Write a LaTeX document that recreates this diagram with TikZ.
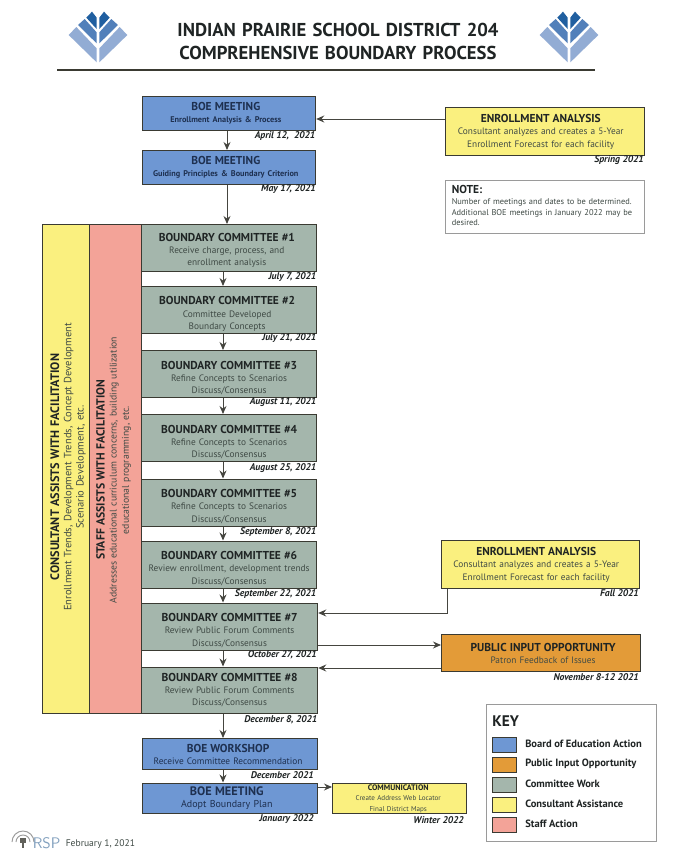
\documentclass[tikz,border=0pt]{standalone}
\usepackage{fontspec}
\setmainfont{PT Sans}
\usetikzlibrary{arrows.meta,calc}
\definecolor{boeblue}{HTML}{6E97D3}
\definecolor{cgreen}{HTML}{A4B6AC}
\definecolor{cyellow}{HTML}{FAF07F}
\definecolor{spink}{HTML}{F3A398}
\definecolor{porange}{HTML}{E39B38}
\definecolor{edge}{HTML}{3A3A32}
\definecolor{linegray}{HTML}{45453F}
\definecolor{bodytxt}{HTML}{3F4A45}
\definecolor{titletxt}{HTML}{1F2424}
\definecolor{bluetxt}{HTML}{1E3050}
\definecolor{keyedge}{HTML}{9A9A9A}
\newcommand{\shl}[1]{\hspace*{-#1pt}}
\newcommand{\dwn}[1]{\rule{0pt}{#1pt}}
\newcommand{\bt}[1]{{\fontsize{8.6}{9.6}\selectfont\bfseries\color{titletxt}#1}}
\newcommand{\bs}[1]{{\color{bodytxt}#1}}
\newcommand{\bbt}[1]{{\fontsize{8.6}{9.6}\selectfont\bfseries\color{bluetxt}#1}}
\newcommand{\bbs}[1]{{\fontsize{6.2}{8}\selectfont\bfseries\color{bluetxt}#1}}
\newcommand{\bbr}[1]{{\color{bluetxt}#1}}
\newcommand{\vtc}[1]{{\fontsize{9.2}{10}\selectfont\bfseries\color{titletxt}#1}}
\newcommand{\vts}[1]{{\fontsize{8.8}{10}\selectfont\bfseries\color{titletxt}#1}}
\tikzset{
  box/.style={draw=edge,line width=0.9pt,anchor=north west,inner sep=0pt,align=center,text width=#1,font=\fontsize{7}{9.2}\selectfont},
  boxwh/.style n args={2}{box=#1*0.75pt,minimum width=#1*0.75pt,minimum height=#2*0.75pt},
  boe/.style={fill=boeblue},
  comm/.style={fill=cgreen},
  cons/.style={fill=cyellow},
  staff/.style={fill=spink},
  pub/.style={fill=porange},
  datelabel/.style={anchor=east,inner sep=0pt,font=\fontsize{7.3}{9}\selectfont\bfseries\itshape,text=titletxt},
  conn/.style={draw=linegray,line width=0.75pt,-{Stealth[length=6pt,width=5.2pt]}},
  notebox/.style={draw=keyedge,line width=1pt,anchor=north west,inner sep=0pt,fill=white},
  swatch/.style={draw=edge,line width=0.8pt,minimum width=18pt,minimum height=11pt,inner sep=0pt,anchor=north west},
  keytxt/.style={anchor=west,inner sep=0pt,font=\fontsize{7.9}{10}\selectfont\bfseries,text=titletxt},
  vert/.style={rotate=90,align=center,inner sep=0pt,anchor=center,text width=300pt},
}
\newcommand{\logoleaves}[1]{%
  \begin{scope}[shift={(#1,5)},x=0.25pt,y=-0.25pt]
    \foreach \s in {1,-1}{
      \begin{scope}[xscale=\s]
      \fill[color={rgb,255:red,32;green,95;blue,160}] (4,38)--(18,20)--(35,38)--(4,72)--cycle;
      \fill[color={rgb,255:red,82;green,128;blue,186}] (4,82)--(40,42)--(60,60)--(4,115)--cycle;
      \fill[color={rgb,255:red,146;green,172;blue,212}] (4,130)--(65,66)--(88,90)--(4,172)--cycle;
      \end{scope}
    }
  \end{scope}}
\begin{document}
\begin{tikzpicture}[x=0.75pt,y=-0.75pt]
\useasboundingbox (0,0) rectangle (672,850);
\fill[white] (0,0) rectangle (672,850);

\logoleaves{98}
\logoleaves{569}
\node[inner sep=0pt,align=center,text width=400pt,font=\fontsize{14}{17.2}\selectfont\bfseries,text=titletxt] (title) at (338,41) {INDIAN PRAIRIE SCHOOL DISTRICT 204\\COMPREHENSIVE BOUNDARY PROCESS};
\coordinate (ruleL) at (57,70);
\coordinate (ruleR) at (595,70);
\draw[line width=1pt,color=edge] (ruleL)--(ruleR);

% BOE
\node[boxwh={173}{34},boe] (boe1) at (142,96) {\shl{5}\bbt{BOE MEETING}\\\shl{5}\bbs{Enrollment Analysis \& Process}};
\node[boxwh={173}{34},boe] (boe2) at (142,150) {\shl{5}\bbt{BOE MEETING}\\\shl{5}\bbs{Guiding Principles \& Boundary Criterion}};
\node[datelabel] (d1) at (315.5,135.5) {April 12,\ \ 2021};
\node[datelabel] (d2) at (316,189) {May 17, 2021};

% committees
\node[boxwh={175}{47},comm] (bc1) at (141,224) {\shl{3.5}\dwn{9.2}\bt{BOUNDARY COMMITTEE \#1}\\\shl{3.5}\bs{Receive charge, process, and}\\\shl{3.5}\bs{enrollment analysis}};
\node[boxwh={175}{47},comm] (bc2) at (141,286) {\shl{3}\dwn{12}\bt{BOUNDARY COMMITTEE \#2}\\\shl{3}\bs{Committee Developed}\\\shl{3}\bs{Boundary Concepts}};
\node[boxwh={175}{47},comm] (bc3) at (141,350) {\dwn{12}\bt{BOUNDARY COMMITTEE \#3}\\\bs{Refine Concepts to Scenarios}\\\bs{Discuss/Consensus}};
\node[boxwh={175}{47},comm] (bc4) at (141,414) {\dwn{12}\bt{BOUNDARY COMMITTEE \#4}\\\bs{Refine Concepts to Scenarios}\\\bs{Discuss/Consensus}};
\node[boxwh={175}{47},comm] (bc5) at (141,478.5) {\dwn{12}\bt{BOUNDARY COMMITTEE \#5}\\\bs{Refine Concepts to Scenarios}\\\bs{Discuss/Consensus}};
\node[boxwh={175}{47},comm] (bc6) at (141,540.5) {\dwn{12}\bt{BOUNDARY COMMITTEE \#6}\\\bs{Review enrollment, development trends}\\\bs{Discuss/Consensus}};
\node[boxwh={176}{47},comm] (bc7) at (141,602.5) {\dwn{12}\bt{BOUNDARY COMMITTEE \#7}\\\bs{Review Public Forum Comments}\\\bs{Discuss/Consensus}};
\node[boxwh={176}{46},comm] (bc8) at (141,666.5) {\bt{BOUNDARY COMMITTEE \#8}\\\bs{Review Public Forum Comments}\\\bs{Discuss/Consensus}};

\node[datelabel] (d3) at (316.5,277) {July 7, 2021};
\node[datelabel] (d4) at (316.5,338.5) {July 21, 2021};
\node[datelabel] (d5) at (316.5,402.5) {August 11, 2021};
\node[datelabel] (d6) at (316.5,468) {August 25, 2021};
\node[datelabel] (d7) at (316.5,532) {September 8, 2021};
\node[datelabel] (d8) at (316.5,594) {September 22, 2021};
\node[datelabel] (d9) at (317,655) {October 27, 2021};
\node[datelabel] (d10) at (317.5,720) {December 8, 2021};

% columns
\node[draw=edge,line width=0.9pt,fill=cyellow,minimum width=35.25pt,minimum height=366.75pt,anchor=north west,inner sep=0pt] (colC) at (42,224) {};
\node[draw=edge,line width=0.9pt,fill=spink,minimum width=39pt,minimum height=366.75pt,anchor=north west,inner sep=0pt] (colS) at (89,224) {};
\node[vert,font=\fontsize{7.9}{9.2}\selectfont] (colCt) at (68,467) {\vtc{CONSULTANT ASSISTS WITH FACILITATION}\\\bs{Enrollment Trends, Development Trends, Concept Development}\\\bs{Scenario Development, etc.}};
\node[vert,font=\fontsize{7.3}{9.1}\selectfont] (colSt) at (113.5,470) {\vts{STAFF ASSISTS WITH FACILITATION}\\\bs{Addresses educational curriculum concerns, building utilization}\\\bs{educational programming, etc.}};

% late BOE
\node[boxwh={175}{31},boe] (boe3) at (142,738) {\shl{3}\bbt{BOE WORKSHOP}\\\shl{3}\bbr{Receive Committee Recommendation}};
\node[boxwh={175}{30},boe,font=\fontsize{7.5}{9.4}\selectfont] (boe4) at (142,782.5) {\shl{5}{\fontsize{9.2}{10}\selectfont\bfseries\color{bluetxt}BOE MEETING}\\\shl{5}\bbr{Adopt Boundary Plan}};
\node[datelabel] (d11) at (314,775) {December 2021};
\node[datelabel] (d12) at (314,819) {January 2022};
\node[boxwh={134}{30},cons,font=\fontsize{5.3}{7.9}\selectfont] (com) at (332,783) {\shl{2}{\fontsize{6}{7}\selectfont\bfseries\color{titletxt}COMMUNICATION}\\\shl{2}\bs{Create Address Web Locator}\\\shl{2}\bs{Final District Maps}};
\node[datelabel] (d13) at (464,820) {Winter 2022};

% right
\node[boxwh={199}{48},cons] (ea1) at (445,107) {\shl{6.5}\bt{ENROLLMENT ANALYSIS}\\\shl{6.5}\bs{Consultant analyzes and creates a 5-Year}\\\shl{6.5}\bs{Enrollment Forecast for each facility}};
\node[datelabel] (d14) at (644,160) {Spring 2021};
\node[notebox,minimum width=149.25pt,minimum height=39.5pt] (note) at (445,180) {};
\node[anchor=north west,inner sep=0pt,align=left,text width=146pt,font=\fontsize{6.3}{7.9}\selectfont] (notet) at (451.5,185.5) {\bt{NOTE:}\\\bs{Number of meetings and dates to be determined.}\\\bs{Additional BOE meetings in January 2022 may be}\\\bs{desired.}};
\node[boxwh={198}{48},cons] (ea2) at (441,540) {\shl{6.5}\bt{ENROLLMENT ANALYSIS}\\\shl{6.5}\bs{Consultant analyzes and creates a 5-Year}\\\shl{6.5}\bs{Enrollment Forecast for each facility}};
\node[datelabel] (d15) at (639,593) {Fall 2021};
\node[boxwh={199}{37},pub] (pi) at (441,634) {\hspace*{3pt}\bt{PUBLIC INPUT OPPORTUNITY}\\\hspace*{3pt}\bs{Patron Feedback of Issues}};
\node[datelabel] (d16) at (639,677) {November 8-12 2021};

% connectors
\coordinate (ax) at (223,0);
\coordinate (bx) at (227,0);
\draw[conn] (boe1.south -| bx) -- (boe2.north -| bx);
\draw[conn] (boe2.south -| bx) -- (bc1.north -| bx);
\coordinate (y119) at (0,119);
\draw[conn] (ea1.west |- y119) -- (boe1.east |- y119);
\foreach \a/\b in {bc1/bc2,bc2/bc3,bc3/bc4,bc4/bc5,bc5/bc6,bc6/bc7,bc7/bc8}
  \draw[conn] (\a.south -| ax) -- (\b.north -| ax);
\draw[conn] (bc8.south -| ax) -- (boe3.north -| ax);
\draw[conn] (boe3.south -| ax) -- (boe4.north -| ax);
\coordinate (y613) at (447,613);
\draw[conn] (ea2.south -| y613) -- (y613) -- (bc7.east |- y613);
\coordinate (y645) at (0,645);
\draw[conn] (bc7.east |- y645) -- (pi.west |- y645);
\coordinate (y668) at (0,668);
\draw[conn] (pi.west |- y668) -- (bc8.east |- y668);
\coordinate (y787) at (0,787);
\draw[conn] (boe4.east |- y787) -- (com.west |- y787);

% key
\node[notebox,minimum width=127.5pt,minimum height=102.75pt] (key) at (485.5,704) {};
\node[anchor=west,inner sep=0pt,font=\fontsize{11.5}{14}\selectfont\bfseries,text=titletxt] (keyt) at (492,721) {KEY};
\node[swatch,boe] (k1) at (491.5,737) {};
\node[swatch,pub] (k2) at (491.5,757) {};
\node[swatch,comm] (k3) at (491.5,777) {};
\node[swatch,cons] (k4) at (491.5,797) {};
\node[swatch,staff] (k5) at (491.5,817) {};
\node[keytxt] (kt1) at (525,744) {Board of Education Action};
\node[keytxt] (kt2) at (525,764) {Public Input Opportunity};
\node[keytxt] (kt3) at (525,783.5) {Committee Work};
\node[keytxt] (kt4) at (525,804) {Consultant Assistance};
\node[keytxt] (kt5) at (525,824) {Staff Action};

% RSP
\begin{scope}[line width=0.7pt,color=keyedge]
\draw (16,842) arc (180:360:7);
\draw (12,842) arc (180:360:11);
\fill[color=edge!80] (20,838) rectangle (26,843);
\fill[color=edge!80] (22,843) rectangle (24,848);
\end{scope}
\node[anchor=west,inner sep=0pt,font=\fontsize{11.5}{12}\selectfont\sffamily,text={rgb,255:red,130;green,160;blue,190}] (rsp) at (32.5,843) {RSP};
\node[anchor=west,inner sep=0pt,font=\fontsize{7.2}{10}\selectfont,text=bodytxt] (dt) at (65.5,844.5) {February 1, 2021};
\end{tikzpicture}
\end{document}
